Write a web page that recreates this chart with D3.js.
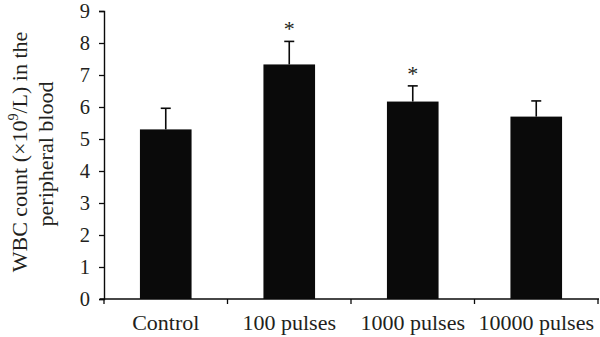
<!DOCTYPE html>
<html><head><meta charset="utf-8">
<script src="https://cdn.jsdelivr.net/npm/d3@7"></script>
<style>body{margin:0;background:#fff}svg{display:block}text{font-family:"Liberation Serif","Times New Roman",serif;fill:#231f20}</style>
</head><body><svg id="c" width="600" height="337"></svg>
<script>
const categories = ["Control", "100 pulses", "1000 pulses", "10000 pulses"];
const values = [5.3, 7.33, 6.17, 5.7];
const errors = [0.66, 0.72, 0.49, 0.49];
const significant = [false, true, true, false];
const yTicks = [0,1,2,3,4,5,6,7,8,9];

const svg = d3.select("#c");
const x = d3.scaleBand().domain(categories).range([104, 598]).paddingInner(0.582).paddingOuter(0.291);
const y = d3.scaleLinear().domain([0, 9]).range([299, 11]);
const ink = "#0a0a0a";

// bars
svg.selectAll("rect.bar").data(categories).join("rect")
  .attr("x", d => x(d)).attr("width", x.bandwidth())
  .attr("y", (d,i) => y(values[i])).attr("height", (d,i) => y(0) - y(values[i]))
  .attr("fill", ink);

// error bars
const eb = svg.selectAll("g.err").data(categories).join("g").attr("class","err");
eb.append("line")
  .attr("x1", d => x(d) + x.bandwidth()/2).attr("x2", d => x(d) + x.bandwidth()/2)
  .attr("y1", (d,i) => y(values[i])).attr("y2", (d,i) => y(values[i] + errors[i]))
  .attr("stroke", ink).attr("stroke-width", 1.6);
eb.append("line")
  .attr("x1", d => x(d) + x.bandwidth()/2 - 5).attr("x2", d => x(d) + x.bandwidth()/2 + 5)
  .attr("y1", (d,i) => y(values[i] + errors[i])).attr("y2", (d,i) => y(values[i] + errors[i]))
  .attr("stroke", ink).attr("stroke-width", 1.6);

// asterisks
svg.selectAll("text.sig").data(categories.filter((d,i) => significant[i])).join("text")
  .attr("class","sig")
  .attr("x", d => x(d) + x.bandwidth()/2)
  .attr("y", d => { const i = categories.indexOf(d); return y(values[i] + errors[i]) - 5; })
  .attr("text-anchor","middle").attr("font-size", 22).attr("fill", "#333").text("*");

// y axis
const yAxis = svg.append("g").attr("transform","translate(104,0)")
  .call(d3.axisLeft(y).tickValues(yTicks).tickSize(5).tickPadding(9).tickFormat(d3.format("d")));
yAxis.select(".domain").attr("stroke", ink).attr("stroke-width", 1.4);
yAxis.selectAll(".tick line").attr("stroke", ink).attr("stroke-width", 1.3);
yAxis.selectAll(".tick text").attr("font-size", 20.5).attr("font-family", "Liberation Serif").attr("fill", "#231f20");

// x axis
const xAxis = svg.append("g").attr("transform","translate(0,299)");
xAxis.append("line").attr("x1", 100).attr("x2", 599).attr("y1", 0).attr("y2", 0)
  .attr("stroke", ink).attr("stroke-width", 1.4);
const bounds = d3.range(categories.length + 1).map(i => x.range()[0] + i * x.step());
xAxis.selectAll("line.tk").data(bounds).join("line").attr("class","tk")
  .attr("x1", d => d).attr("x2", d => d).attr("y1", 0).attr("y2", 5)
  .attr("stroke", ink).attr("stroke-width", 1.3);
xAxis.selectAll("text").data(categories).join("text")
  .attr("x", d => x(d) + x.bandwidth()/2).attr("y", 31)
  .attr("text-anchor","middle").attr("font-size", 22).text(d => d);

// y title
const t = svg.append("text").attr("transform","translate(27,152) rotate(-90)")
  .attr("text-anchor","middle").attr("font-size", 22);
t.append("tspan").text("WBC count (\u00d710");
t.append("tspan").attr("font-size", 14).attr("dy", -9).text("9");
t.append("tspan").attr("dy", 9).text("/L) in the");
svg.append("text").attr("transform","translate(53,154) rotate(-90)")
  .attr("text-anchor","middle").attr("font-size", 22).text("peripheral blood");
</script></body></html>
